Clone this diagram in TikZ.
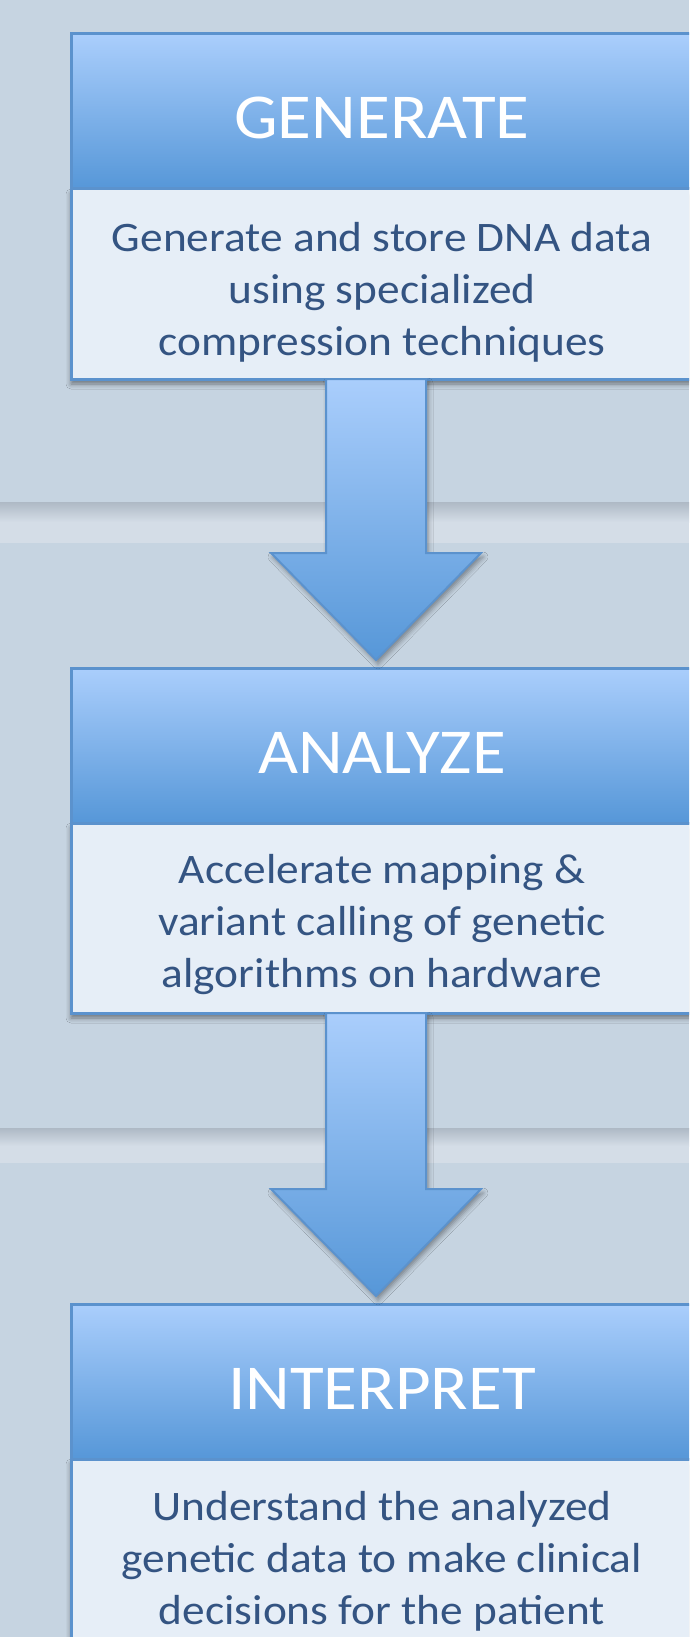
\documentclass[tikz,border=0pt]{standalone}
\usepackage{fontspec}
\setmainfont{Carlito}[FakeStretch=1.08]
\usetikzlibrary{positioning,calc,shadows.blur}
\definecolor{bgblue}{RGB}{198,212,225}
\definecolor{bandlight}{RGB}{212,221,231}
\definecolor{banddark}{RGB}{174,185,197}
\definecolor{headtop}{RGB}{170,206,252}
\definecolor{headbot}{RGB}{86,151,216}
\definecolor{bodyfill}{RGB}{230,238,247}
\definecolor{edgeblue}{RGB}{91,146,205}
\definecolor{textblue}{RGB}{52,84,130}
\tikzset{
  head/.style={draw=edgeblue, line width=3pt, top color=headtop, bottom color=headbot,
    minimum width=622pt, minimum height=155pt, inner sep=0pt, outer sep=0pt,
    text height=55pt, text depth=0pt, text=white, font=\fontsize{64}{64}\selectfont},
  body/.style={draw=edgeblue, line width=3pt, fill=bodyfill,
    minimum width=622pt, minimum height=190pt, inner sep=0pt, outer sep=0pt,
    blur shadow={shadow xshift=0pt, shadow yshift=-5pt, shadow blur radius=5pt, shadow opacity=45}},
  bodytext/.style={text=textblue, align=center, inner sep=0pt, font=\fontsize{42}{52}\selectfont},
  blockarrow/.style={draw=edgeblue, line width=2pt, line join=miter,
    top color=headtop, bottom color=headbot,
    blur shadow={shadow xshift=2pt, shadow yshift=-4pt, shadow blur radius=5pt, shadow opacity=40}}
}
\begin{document}
\begin{tikzpicture}[x=1pt, y=-1pt]
	\useasboundingbox (0,0) rectangle (689,1637);
	\clip (0,0) rectangle (689,1637);
	% background and bands
	\fill[bgblue] (0,0) rectangle (689,1637);
	\shade[top color=banddark, bottom color=bandlight] (0,502) rectangle (689,522);
	\fill[bandlight] (0,522) rectangle (689,543);
	\shade[top color=banddark, bottom color=bandlight] (0,1128) rectangle (689,1146);
	\fill[bandlight] (0,1146) rectangle (689,1163);
	% steps
	\node[head] (genhead) at (382,111.5) {GENERATE};
	\node[body, below=0pt of genhead] (genbody) {};
	\node[bodytext] (gentext) at ([yshift=-8pt]genbody.center) {Generate and store DNA data\\using specialized\\compression techniques};
	\node[head, below=289pt of genbody] (anhead) {ANALYZE};
	\node[body, below=0pt of anhead] (anbody) {};
	\node[bodytext] (antext) at ([yshift=-7pt]anbody.center) {Accelerate mapping \&\\variant calling of genetic\\algorithms on hardware};
	\node[head, below=291pt of anbody] (inhead) {INTERPRET};
	\node[body, below=0pt of inhead] (inbody) {};
	\node[bodytext] (intext) at ([yshift=-7pt]inbody.center) {Understand the analyzed\\genetic data to make clinical\\decisions for the patient};
	% arrows
	\shade[blockarrow] ($(genbody.south)+(-56,0)$) -- ($(anhead.north)+(-56,-115)$) -- ($(anhead.north)+(-111,-115)$)
		-- ($(anhead.north)+(-6,-8)$) -- ($(anhead.north)+(99,-115)$) -- ($(anhead.north)+(44,-115)$) -- ($(genbody.south)+(44,0)$) -- cycle;
	\shade[blockarrow] ($(anbody.south)+(-56,0)$) -- ($(inhead.north)+(-56,-115)$) -- ($(inhead.north)+(-111,-115)$)
		-- ($(inhead.north)+(-6,-8)$) -- ($(inhead.north)+(99,-115)$) -- ($(inhead.north)+(44,-115)$) -- ($(anbody.south)+(44,0)$) -- cycle;
\end{tikzpicture}
\end{document}
